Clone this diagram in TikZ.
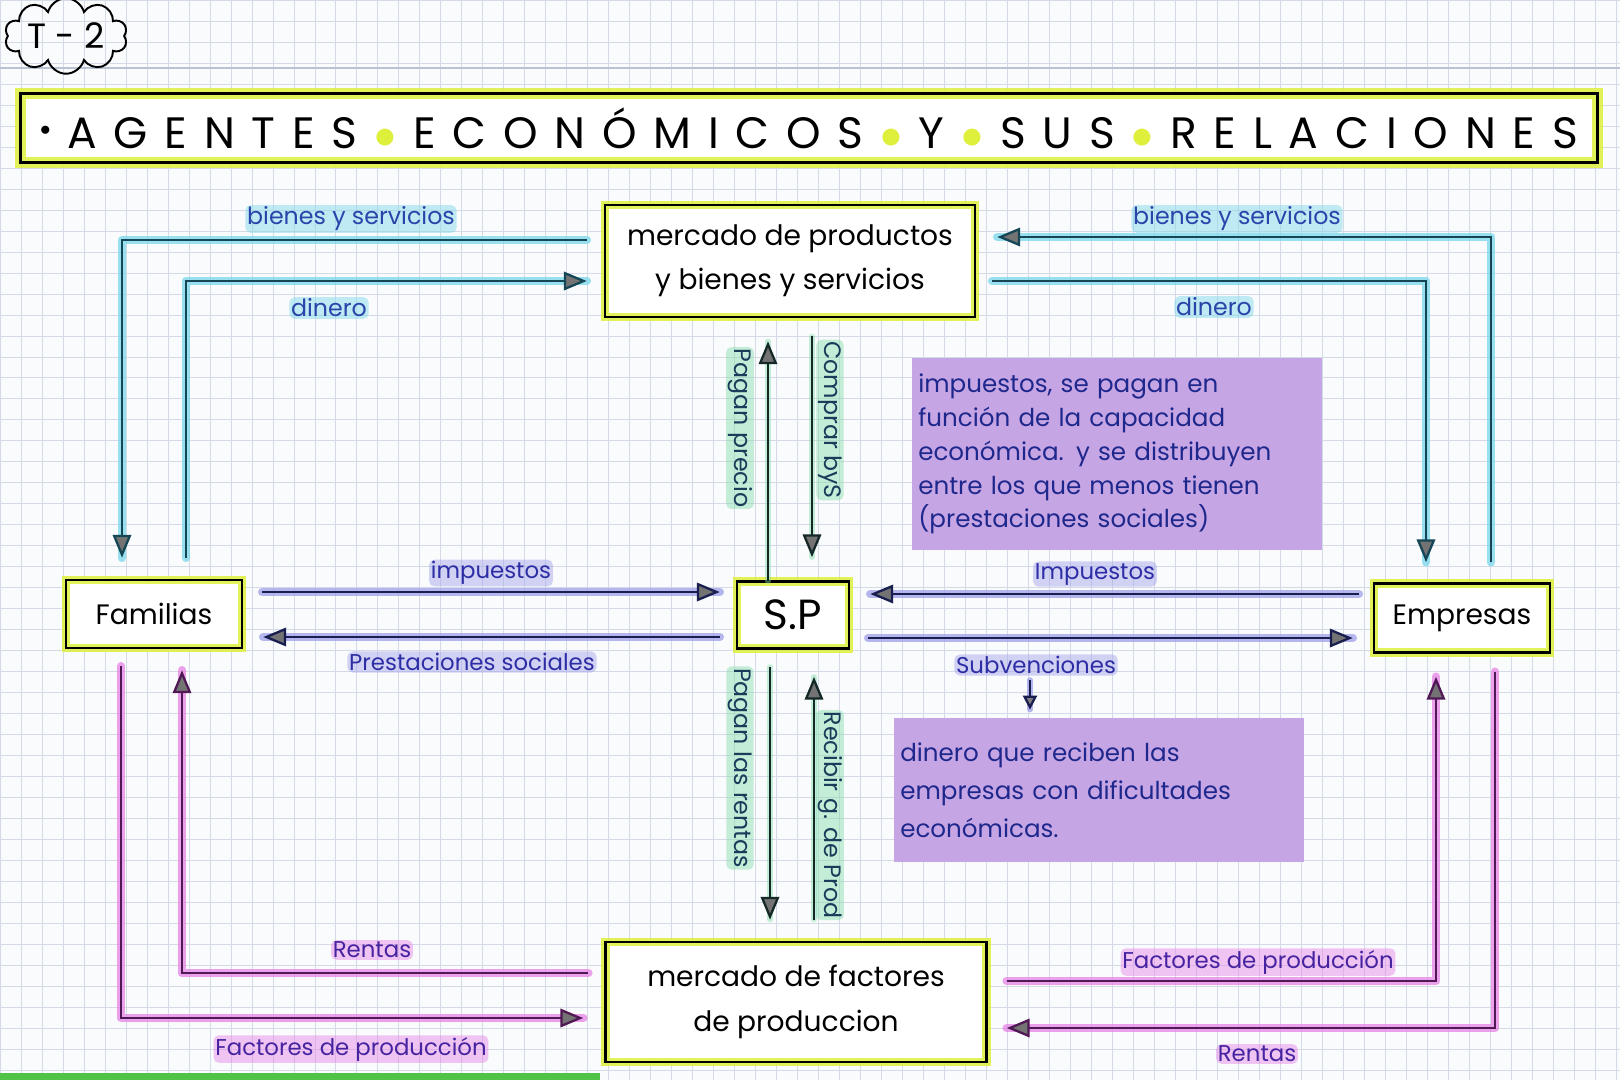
\documentclass[tikz,border=0pt]{standalone}
\usepackage{fontspec}
\setmainfont{Poppins}
\usetikzlibrary{arrows.meta,calc,shapes.symbols}
\definecolor{gridc}{RGB}{212,219,230}
\definecolor{hly}{RGB}{222,240,60}
\definecolor{cyhl}{RGB}{120,215,235}
\definecolor{cyd}{RGB}{20,70,85}
\definecolor{cytxt}{RGB}{40,70,170}
\definecolor{nvhl}{RGB}{160,160,235}
\definecolor{nvd}{RGB}{25,30,80}
\definecolor{nvtxt}{RGB}{45,45,165}
\definecolor{mghl}{RGB}{230,130,230}
\definecolor{mgd}{RGB}{80,25,85}
\definecolor{mgtxt}{RGB}{70,35,160}
\definecolor{gnhl}{RGB}{130,220,170}
\definecolor{gnd}{RGB}{20,40,40}
\definecolor{gntxt}{RGB}{25,60,90}
\definecolor{purp}{RGB}{198,165,228}
\definecolor{purtxt}{RGB}{30,40,140}
\definecolor{paper}{RGB}{250,251,252}
\definecolor{stripg}{RGB}{80,195,70}
\definecolor{marginc}{RGB}{185,195,212}
\newcommand\flowpath[2]{\draw[#1glow] #2; \draw[#1line,arr] #2;}
\begin{document}
\begin{tikzpicture}[x=0.02cm,y=-0.02cm,
  arr/.style={-{Triangle[length=13pt,width=10.5pt,fill=black!55]}},
  cyglow/.style={draw=cyhl,line width=5pt,opacity=0.75,line cap=round,line join=round},
  cyline/.style={draw=cyd,line width=1.3pt},
  nvglow/.style={draw=nvhl,line width=5pt,opacity=0.75,line cap=round,line join=round},
  nvline/.style={draw=nvd,line width=1.3pt},
  mgglow/.style={draw=mghl,line width=5pt,opacity=0.75,line cap=round,line join=round},
  mgline/.style={draw=mgd,line width=1.3pt},
  gnglow/.style={draw=gnhl,line width=3pt,opacity=0.45,line cap=round},
  gnline/.style={draw=gnd,line width=1.3pt},
  box/.style={rectangle, fill=white, align=center, inner sep=2pt,
    postaction={draw=hly,line width=5pt,opacity=0.85},
    postaction={draw=black,line width=1.3pt},
    font=\fontsize{16}{25}\selectfont},
  notebox/.style={rectangle, fill=purp, align=left, text=purtxt,
    font=\fontsize{14}{19.3}\selectfont},
  toplbl/.style={text=cytxt, fill=cyhl, fill opacity=0.45, text opacity=1, inner sep=1pt, rounded corners=3pt, font=\fontsize{13.5}{15}\selectfont},
  midlbl/.style={text=nvtxt, fill=nvhl, fill opacity=0.45, text opacity=1, inner sep=1pt, rounded corners=3pt, font=\fontsize{13}{15}\selectfont},
  botlbl/.style={text=mgtxt, fill=mghl, fill opacity=0.45, text opacity=1, inner sep=1pt, rounded corners=3pt, font=\fontsize{13}{15}\selectfont},
  vlbl/.style={text=gntxt, fill=gnhl, fill opacity=0.45, text opacity=1, inner sep=1pt, rounded corners=3pt, rotate=-90, font=\fontsize{13.5}{15}\selectfont}
]
% paper and grid
\fill[paper] (0,0) rectangle (1620,1080);
\useasboundingbox (0,0) rectangle (1620,1080);
\draw[gridc,line width=0.5pt,xstep=0.42cm,ystep=0.42cm] (0,0) grid (1620,1080);
\draw[marginc,line width=1pt] (0,68) -- (1620,68);
\fill[stripg] (0,1073) rectangle (600,1080);

% tag
\node[cloud, draw, line width=1.1pt, cloud puffs=10, aspect=2.1, minimum width=2.45cm, minimum height=1.2cm, inner sep=0pt, font=\fontsize{20}{22}\selectfont] (tag) at (66,36) {T - 2};

% title
\node[rectangle, fill=white, minimum width=31.54cm, minimum height=1.38cm, inner sep=0pt,
    postaction={draw=hly,line width=6pt,opacity=0.85},
    postaction={draw=black,line width=1.4pt},
    font=\fontsize{25}{30}\selectfont] (title) at (809,128)
  {\hbox to 30.76cm{\raisebox{0.28em}{\fontsize{12}{12}\selectfont$\bullet$}\hfill A\hfill G\hfill E\hfill N\hfill T\hfill E\hfill S\hfill\textcolor{hly}{$\bullet$}\hfill E\hfill C\hfill O\hfill N\hfill Ó\hfill M\hfill I\hfill C\hfill O\hfill S\hfill\textcolor{hly}{$\bullet$}\hfill Y\hfill\textcolor{hly}{$\bullet$}\hfill S\hfill U\hfill S\hfill\textcolor{hly}{$\bullet$}\hfill R\hfill E\hfill L\hfill A\hfill C\hfill I\hfill O\hfill N\hfill E\hfill S}};

% main boxes
\node[box, minimum width=7.4cm, minimum height=2.24cm] (pm) at (790,261) {mercado de productos\\y bienes y servicios};
\node[box, minimum width=3.52cm, minimum height=1.36cm] (fam) at (154,614) {Familias};
\node[box, minimum width=2.24cm, minimum height=1.34cm, font=\fontsize{24}{26}\selectfont] (sp) at (793,615) {S.P};
\node[box, minimum width=3.52cm, minimum height=1.38cm] (emp) at (1462,618) {Empresas};
\node[box, minimum width=7.62cm, minimum height=2.4cm, font=\fontsize{16}{25.6}\selectfont] (fm) at (796,1002) {mercado de factores\\de produccion};

% note boxes
\node[notebox, minimum width=8.16cm, minimum height=3.84cm, text width=7.95cm] (pb1) at (1117,454)
  {impuestos, se pagan en\\función de la capacidad\\económica. y se distribuyen\\entre los que menos tienen\\(prestaciones sociales)};
\node[notebox, minimum width=8.22cm, minimum height=2.88cm, text width=7.95cm, font=\fontsize{14}{21.5}\selectfont] (pb2) at (1099,790)
  {dinero que reciben las\\empresas con dificultades\\económicas.};

% top-left flows
\flowpath{cy}{($(pm.west)+(-18,-21)$) -| ($(fam.north)+(-32,-22)$)}
\flowpath{cy}{($(fam.north)+(32,-22)$) |- ($(pm.west)+(-18,20)$)}
% top-right flows
\flowpath{cy}{($(emp.north)+(29,-21)$) |- ($(pm.east)+(22,-24)$)}
\flowpath{cy}{($(pm.east)+(17,20)$) -| ($(emp.north)+(-36,-21)$)}
% vertical flows
\flowpath{gn}{($(sp.north)+(-25,0)$) -- ($(pm.south)+(-22,24)$)}
\flowpath{gn}{($(pm.south)+(22,19)$) -- ($(sp.north)+(19,-24)$)}
\flowpath{gn}{($(sp.south)+(-23,18)$) -- ($(fm.north)+(-26,-22)$)}
\flowpath{gn}{($(fm.north)+(18,-22)$) -- ($(sp.south)+(21,28)$)}
% horizontal flows
\flowpath{nv}{($(fam.east)+(20,-22)$) -- ($(sp.west)+(-17,-23)$)}
\flowpath{nv}{($(sp.west)+(-17,22)$) -- ($(fam.east)+(21,23)$)}
\flowpath{nv}{($(emp.west)+(-15,-24)$) -- ($(sp.east)+(21,-21)$)}
\flowpath{nv}{($(sp.east)+(19,23)$) -- ($(emp.west)+(-21,20)$)}
% bottom flows
\flowpath{mg}{($(fm.west)+(-17,-29)$) -| ($(fam.south)+(28,22)$)}
\flowpath{mg}{($(fam.south)+(-33,18)$) |- ($(fm.west)+(-22,16)$)}
\flowpath{mg}{($(fm.east)+(20,-21)$) -| ($(emp.south)+(-26,24)$)}
\flowpath{mg}{($(emp.south)+(33,19)$) |- ($(fm.east)+(20,26)$)}

% labels
\node[toplbl] (l1) at (351,219) {bienes y servicios};
\node[toplbl] (l2) at (329,308) {dinero};
\node[toplbl] (l3) at (1237,219) {bienes y servicios};
\node[toplbl] (l4) at (1214,307) {dinero};
\node[vlbl] (l5) at (740,428) {Pagan precio};
\node[vlbl] (l6) at (830,420) {Comprar byS};
\node[vlbl] (l7) at (740,768) {Pagan las rentas};
\node[vlbl] (l8) at (830,815) {Recibir g. de Prod};
\node[midlbl] (l9) at (491,573) {impuestos};
\node[midlbl] (l10) at (472,662) {Prestaciones sociales};
\node[midlbl] (l11) at (1095,574) {Impuestos};
\node[midlbl] (l12) at (1036,665) {Subvenciones};
\node[botlbl] (l13) at (372,950) {Rentas};
\node[botlbl] (l14) at (351,1049) {Factores de producción};
\node[botlbl] (l15) at (1258,962) {Factores de producción};
\node[botlbl] (l16) at (1257,1054) {Rentas};

% subvenciones pointer
\draw[nvglow,line width=3pt] ($(l12.south)+(-6,4)$) -- ($(pb2.north)+(-69,-8)$);
\draw[nvline,-{Triangle[length=8pt,width=8pt,fill=black!50]}] ($(l12.south)+(-6,4)$) -- ($(pb2.north)+(-69,-8)$);
\end{tikzpicture}
\end{document}
